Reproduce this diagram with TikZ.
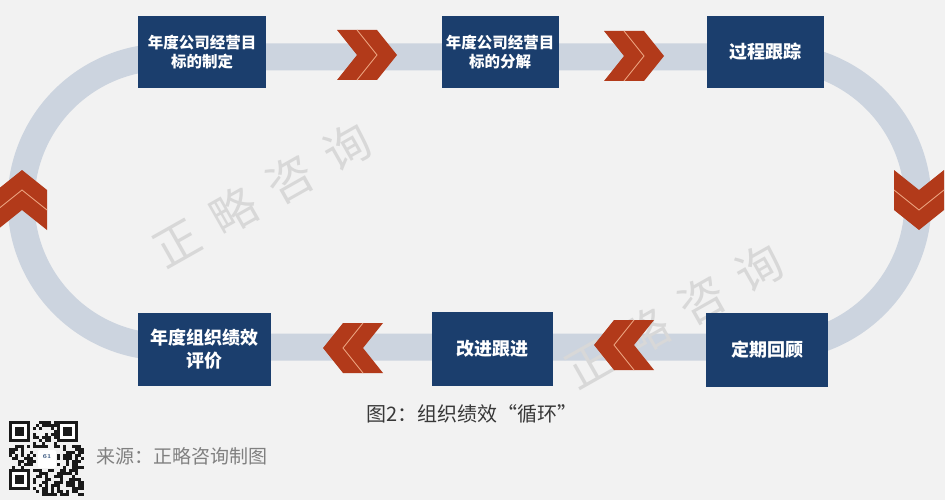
\documentclass[tikz,border=0pt]{standalone}
\usepackage{fontspec}
\newfontfamily\cjk{Noto Sans CJK SC}

\definecolor{bggray}{HTML}{F2F2F2}
\definecolor{trackblue}{HTML}{CCD4DF}
\definecolor{boxblue}{HTML}{1B3E6D}
\definecolor{chevred}{HTML}{B23A1A}
\definecolor{chevlight}{HTML}{EFA884}
\definecolor{markgray}{HTML}{D8D8D8}
\definecolor{qrdark}{HTML}{1A1A1A}

\tikzset{
  stage/.style={fill=boxblue, text=white, align=center, inner sep=0pt,
    minimum width=117pt, minimum height=72pt,
    font=\cjk\bfseries\fontsize{18}{23}\selectfont},
  stagesmall/.style={stage, font=\cjk\bfseries\fontsize{15.5}{18.5}\selectfont},
  track/.style={draw=trackblue, line width=27pt},
  watermark/.style={text=markgray, font=\cjk\fontsize{46}{46}\selectfont, rotate=29.5},
  chevpair/.pic={
    \fill[chevred] (-30,-25) -- (-10,-25) -- (10,0) -- (-10,25) -- (-30,25) -- (-10,0) -- cycle;
    \fill[chevred] (-10,-25) -- (10,-25) -- (30,0) -- (10,25) -- (-10,25) -- (10,0) -- cycle;
    \draw[chevlight, line width=0.8pt] (-10,-25) -- (10,0) -- (-10,25);
  }
}

\begin{document}
\begin{tikzpicture}[x=1pt, y=-1pt]
  \useasboundingbox (0,0) rectangle (945,500);
  \clip (0,0) rectangle (945,500);
  \fill[bggray] (0,0) rectangle (945,500);

  % --- Track: the loop behind the stages ---
  \coordinate (lc) at (166,202);
  \coordinate (rc) at (773,202);
  \draw[track] (166,57) -- (773,57) arc[start angle=-90, end angle=90, radius=145]
    -- (166,347) arc[start angle=90, end angle=270, radius=145] -- cycle;

  % --- Watermarks ---
  \node[watermark] (wm1) at (262,195) {正\hspace{19pt}略\hspace{19pt}咨\hspace{19pt}询};
  \node[watermark] (wm2) at (674,316) {正\hspace{19pt}略\hspace{19pt}咨\hspace{19pt}询};

  % --- Chevrons along the loop ---
  \pic at (367,55) {chevpair};
  \pic at (634,56) {chevpair};
  \pic[rotate=-90] at (919,200) {chevpair};
  \pic[rotate=180] at (624,345) {chevpair};
  \pic[rotate=180] at (353,348) {chevpair};
  \pic[rotate=90] at (22,200) {chevpair};

  % --- Stages ---
  \node[stagesmall, minimum width=128pt] (goalset) at (202,52) {年度公司经营目\\标的制定};
  \node[stagesmall] (goalsplit) at (500,52) {年度公司经营目\\标的分解};
  \node[stage] (tracking) at (765,52) {过程跟踪};
  \node[stage, minimum width=122pt, minimum height=74pt] (review) at (767,350) {定期回顾};
  \node[stage, minimum width=121pt, minimum height=74pt] (improve) at (492,349) {改进跟进};
  \node[stage, minimum width=133pt, minimum height=73pt] (evaluate) at (204,349) {年度组织绩效\\评价};

  % --- Caption and source ---
  \node[font=\cjk\fontsize{20}{20}\selectfont, text=black!78] (caption) at (472,414) {图2：组织绩效“循环”};
  \node[anchor=west, font=\cjk\fontsize{19}{19}\selectfont, text=black!50, inner sep=0pt] (source) at (96,456) {来源：正略咨询制图};

  % --- QR code ---
  \pgfmathsetseed{11}
  \foreach \i in {0,...,24} {
    \foreach \j in {0,...,24} {
      \pgfmathtruncatemacro{\infinder}{or(or(and(\i<8,\j<8),and(\i>16,\j<8)),and(\i<8,\j>16))}
      \pgfmathtruncatemacro{\inlogo}{and(and(\i>8,\i<16),and(\j>8,\j<16))}
      \pgfmathrandominteger{\bit}{0}{1}
      \ifnum\infinder=0 \ifnum\inlogo=0 \ifnum\bit=1
        \fill[qrdark] (9+3*\i,421+3*\j) rectangle +(3,3);
      \fi\fi\fi
    }
  }
  \foreach \ox/\oy in {9/421, 57/421, 9/469} {
    \fill[qrdark] (\ox,\oy) rectangle +(21,21);
    \fill[white] (\ox+3,\oy+3) rectangle +(15,15);
    \fill[qrdark] (\ox+6,\oy+6) rectangle +(9,9);
  }
  \fill[white, rounded corners=2pt] (38,450) rectangle (56,468);
  \node[font=\bfseries\fontsize{6}{6}\selectfont, text=boxblue, inner sep=0pt] (qrlogo) at (47,457) {61};
\end{tikzpicture}
\end{document}
